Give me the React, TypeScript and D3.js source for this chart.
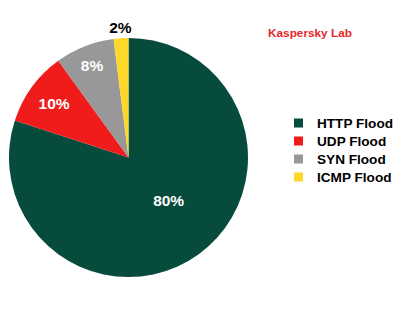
import React from "react";
import * as d3 from "d3";

const categories = ["HTTP Flood", "UDP Flood", "SYN Flood", "ICMP Flood"];
const values = [80, 10, 8, 2];
const colors = ["#064b3c", "#f01b1b", "#989898", "#fed72b"];
const labelText = ["80%", "10%", "8%", "2%"];
const labelRadius = [59, 92, 99, 130];
const labelColor = ["#ffffff", "#ffffff", "#ffffff", "#000000"];

export default function App() {
  const W = 400, H = 325;
  const cx = 128.5, cy = 157.5, r = 119.5;
  const pie = d3.pie<number>().sort(null).value((d) => d);
  const arcs = pie(values);
  const arc = d3.arc<d3.PieArcDatum<number>>().innerRadius(0).outerRadius(r);
  const font = "Arial, 'Liberation Sans', sans-serif";
  return (
    <svg width={W} height={H} style={{ position: "absolute", left: 0, top: 0, background: "#fff" }}>
      <g transform={`translate(${cx},${cy})`}>
        {arcs.map((a, i) => (
          <path key={i} d={arc(a) as string} fill={colors[i]} />
        ))}
        {arcs.map((a, i) => {
          const mid = (a.startAngle + a.endAngle) / 2 - (i === 0 ? 0.12 : 0);
          const lr = labelRadius[i];
          const x = Math.sin(mid) * lr;
          const y = -Math.cos(mid) * lr;
          return (
            <text key={i} x={x} y={y} textAnchor="middle" dominantBaseline="central"
              fill={labelColor[i]} fontFamily={font} fontWeight="bold" fontSize={15.5}>
              {labelText[i]}
            </text>
          );
        })}
      </g>
      <text x={268} y={33} dominantBaseline="central" fill="#e8262b" fontFamily={font}
        fontWeight="bold" fontSize={11.8}>Kaspersky Lab</text>
      {categories.map((c, i) => (
        <g key={c} transform={`translate(294,${123 + i * 18})`}>
          <rect x={0} y={-4.5} width={9} height={9} fill={colors[i]} />
          <text x={23} y={0.5} dominantBaseline="central" fontFamily={font} fontWeight="bold"
            fontSize={13.6} fill="#000">{c}</text>
        </g>
      ))}
    </svg>
  );
}
